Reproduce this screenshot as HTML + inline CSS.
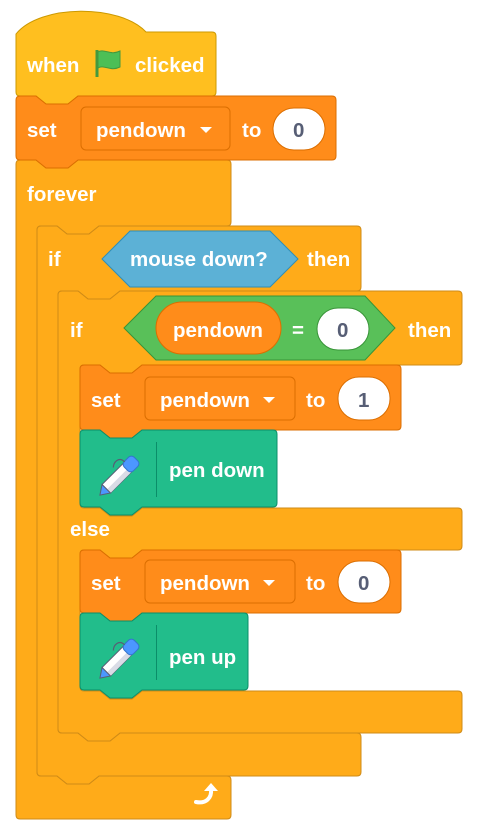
<!DOCTYPE html>
<html><head><meta charset="utf-8"><style>
html,body{margin:0;padding:0;background:#fff;}
svg{display:block;}
text{font-family:"Liberation Sans",sans-serif;font-weight:bold;font-size:20.5px;fill:#fff;}
.d{fill:#575E75;}
</style></head><body>
<svg width="480" height="830" viewBox="0 0 480 830" xmlns="http://www.w3.org/2000/svg">
<defs>
<g id="pen">
 <g transform="rotate(-45)">
  <rect x="-18" y="-6" width="30" height="12" fill="#fff" stroke="#575E75" stroke-width="1"/>
  <rect x="-18" y="1" width="30" height="5" fill="#D9DCE6"/>
  <rect x="10" y="-6.5" width="14" height="13" rx="4" fill="#4C97FF" stroke="#3373CC" stroke-width="1"/>
  <path d="M-18,-6 L-27,0 L-18,6 Z" fill="#4C97FF" stroke="#575E75" stroke-width="1"/>
  <path d="M14,-6 C14,-14 6,-14 2,-10" fill="none" stroke="#575E75" stroke-width="1.2"/>
 </g>
</g>
</defs>
<path d="M16,164 Q16,160 20,160 L36,160 l10,8 h22 l10,-8 L227,160 Q231,160 231,164 L231,222 Q231,226 227,226 L99,226 l-10,8 h-22 l-10,-8 L41,226 Q37,226 37,230 L37,772 Q37,776 41,776 L57,776 l10,8 h22 l10,-8 L227,776 Q231,776 231,780 L231,815 Q231,819 227,819 L20,819 Q16,819 16,815 Z" fill="#FFAB19" stroke="#CF8B17" stroke-width="1"/>
<path d="M37,230 Q37,226 41,226 L57,226 l10,8 h22 l10,-8 L357,226 Q361,226 361,230 L361,287 Q361,291 357,291 L120,291 l-10,8 h-22 l-10,-8 L62,291 Q58,291 58,295 L58,729 Q58,733 62,733 L78,733 l10,8 h22 l10,-8 L357,733 Q361,733 361,737 L361,772 Q361,776 357,776 L99,776 l-10,8 h-22 l-10,-8 L41,776 Q37,776 37,772 Z" fill="#FFAB19" stroke="#CF8B17" stroke-width="1"/>
<path d="M58,295 Q58,291 62,291 L78,291 l10,8 h22 l10,-8 L458,291 Q462,291 462,295 L462,361 Q462,365 458,365 L142,365 l-10,8 h-22 l-10,-8 L84,365 Q80,365 80,369 L80,504 Q80,508 84,508 L100,508 l10,8 h22 l10,-8 L458,508 Q462,508 462,512 L462,546 Q462,550 458,550 L142,550 l-10,8 h-22 l-10,-8 L84,550 Q80,550 80,554 L80,687 Q80,691 84,691 L100,691 l10,8 h22 l10,-8 L458,691 Q462,691 462,695 L462,729 Q462,733 458,733 L120,733 l-10,8 h-22 l-10,-8 L62,733 Q58,733 58,729 Z" fill="#FFAB19" stroke="#CF8B17" stroke-width="1"/>
<path d="M16,34 C40,4 120,4 146,32 L212,32 Q216,32 216,36 L216,92 Q216,96 212,96 L78,96 l-10,8 h-22 l-10,-8 L20,96 Q16,96 16,92 Z" fill="#FFBF1F" stroke="#CC9900" stroke-width="1"/>
<text x="27" y="72">when</text>
<path d="M97,50 L97,77" stroke="#45993D" stroke-width="3"/>
<path d="M98,52 C104,48 110,56 120,51 L120,67 C110,72 104,64 98,68 Z" fill="#4CBF56" stroke="#45993D" stroke-width="1"/>
<text x="135" y="72">clicked</text>
<path d="M16,100 Q16,96 20,96 L36,96 l10,8 h22 l10,-8 L332,96 Q336,96 336,100 L336,156 Q336,160 332,160 L78,160 l-10,8 h-22 l-10,-8 L20,160 Q16,160 16,156 Z" fill="#FF8C1A" stroke="#DB6E00" stroke-width="1"/>
<text x="27" y="137">set</text>
<rect x="81" y="107" width="149" height="43" rx="5" fill="#FF8C1A" stroke="#DB6E00"/>
<text x="96" y="137">pendown</text>
<path d="M200,127 h12 l-6,6 Z" fill="#fff"/>
<text x="242" y="137">to</text>
<rect x="273" y="108" width="52" height="42" rx="21" fill="#fff" stroke="#DB6E00"/>
<text x="293" y="137" class="d">0</text>
<text x="27" y="201">forever</text>
<text x="48" y="266">if</text>
<path d="M102,259 L130,231 L270,231 L298,259 L270,287 L130,287 Z" fill="#5CB1D6" stroke="#2E8EB8"/>
<text x="130" y="266">mouse down?</text>
<text x="307" y="266">then</text>
<text x="70" y="337">if</text>
<path d="M124,328 L156,296 L365,296 L395,328 L365,360 L156,360 Z" fill="#59C059" stroke="#389438"/>
<rect x="156" y="302" width="125" height="52" rx="26" fill="#FF8C1A" stroke="#DB6E00"/>
<text x="173" y="337">pendown</text>
<text x="292" y="337">=</text>
<rect x="317" y="308" width="52" height="42" rx="21" fill="#fff" stroke="#389438"/>
<text x="337" y="337" class="d">0</text>
<text x="408" y="337">then</text>
<path d="M80,369 Q80,365 84,365 L100,365 l10,8 h22 l10,-8 L397,365 Q401,365 401,369 L401,426 Q401,430 397,430 L142,430 l-10,8 h-22 l-10,-8 L84,430 Q80,430 80,426 Z" fill="#FF8C1A" stroke="#DB6E00" stroke-width="1"/>
<text x="91" y="407">set</text>
<rect x="145" y="377" width="150" height="43" rx="5" fill="#FF8C1A" stroke="#DB6E00"/>
<text x="160" y="407">pendown</text>
<path d="M263,397 h12 l-6,6 Z" fill="#fff"/>
<text x="306" y="407">to</text>
<rect x="338" y="377" width="52" height="43" rx="21" fill="#fff" stroke="#DB6E00"/>
<text x="358" y="407" class="d">1</text>
<path d="M80,434 Q80,430 84,430 L100,430 l10,8 h22 l10,-8 L273,430 Q277,430 277,434 L277,503 Q277,507 273,507 L142,507 l-10,8 h-22 l-10,-8 L84,507 Q80,507 80,503 Z" fill="#22BD8B" stroke="#0B8E69" stroke-width="1"/>
<line x1="156.5" y1="442" x2="156.5" y2="497" stroke="#0B8E69"/>
<use href="#pen" transform="translate(119,476)"/>
<text x="169" y="477">pen down</text>
<text x="70" y="536">else</text>
<path d="M80,554 Q80,550 84,550 L100,550 l10,8 h22 l10,-8 L397,550 Q401,550 401,554 L401,609 Q401,613 397,613 L142,613 l-10,8 h-22 l-10,-8 L84,613 Q80,613 80,609 Z" fill="#FF8C1A" stroke="#DB6E00" stroke-width="1"/>
<text x="91" y="590">set</text>
<rect x="145" y="560" width="150" height="43" rx="5" fill="#FF8C1A" stroke="#DB6E00"/>
<text x="160" y="590">pendown</text>
<path d="M263,580 h12 l-6,6 Z" fill="#fff"/>
<text x="306" y="590">to</text>
<rect x="338" y="561" width="52" height="42" rx="21" fill="#fff" stroke="#DB6E00"/>
<text x="358" y="590" class="d">0</text>
<path d="M80,617 Q80,613 84,613 L100,613 l10,8 h22 l10,-8 L244,613 Q248,613 248,617 L248,686 Q248,690 244,690 L142,690 l-10,8 h-22 l-10,-8 L84,690 Q80,690 80,686 Z" fill="#22BD8B" stroke="#0B8E69" stroke-width="1"/>
<line x1="156.5" y1="625" x2="156.5" y2="680" stroke="#0B8E69"/>
<use href="#pen" transform="translate(119,659)"/>
<text x="169" y="664">pen up</text>
<path d="M196,802 C206,804 212,798 211,789" fill="none" stroke="#fff" stroke-width="4" stroke-linecap="round"/>
<path d="M204,791 L211,783 L218,791 Z" fill="#fff"/>
</svg>
</body></html>
